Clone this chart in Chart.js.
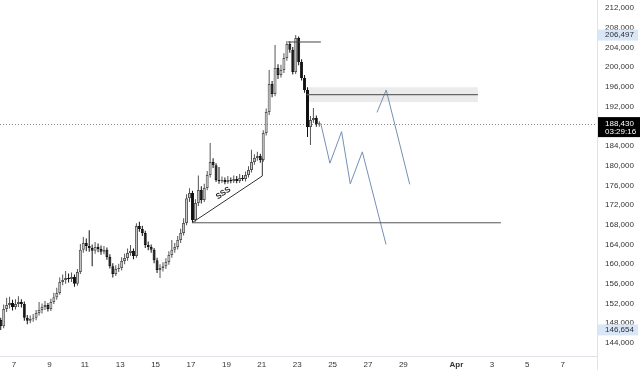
<!DOCTYPE html>
<html>
<head>
<meta charset="utf-8">
<script src="https://cdn.jsdelivr.net/npm/chart.js@4.4.1/dist/chart.umd.min.js"></script>
<style>
  html, body { margin: 0; padding: 0; background: #fff; }
  #c { display: block; }
</style>
</head>
<body>
<canvas id="c" width="640" height="370"></canvas>
<script>
// === 1. DATA (4H candles, days of March) ===
const FIRST_CANDLE_DAY = 6.25;   // Mar 6, 06:00
const CANDLE_STEP = 1 / 6;       // 4 hours

const opens = [
  148660, 147400, 150900, 151700, 152100, 151300, 151900, 152300, 151900, 149100,
  148500, 148900, 149100, 150100, 150700, 151300, 151700, 150900, 152300, 153300,
  154150, 156400, 156800, 157200, 157000, 157400, 156000, 158400, 162900, 164300,
  163700, 163300, 162700, 163500, 163100, 162500, 162900, 161450, 159600, 158000,
  159000, 159200, 160650, 161250, 162250, 162700, 161650, 167750, 167150, 166300,
  163900, 163500, 162900, 160800, 158800, 159200, 159600, 160450, 161850, 162900,
  163500, 164900, 166300, 168350, 173400, 174450, 168950, 172400, 175050, 173000,
  175450, 178100, 180750, 180100, 177100, 176900, 177100, 176700, 177100, 176900,
  177300, 176900, 177500, 177300, 178100, 179100, 180750, 181550, 181950, 181150,
  186600, 190900, 196550, 194550, 199800, 198400, 199400, 201850, 204700, 203500,
  199000, 205900, 201050, 197800, 195350, 187850, 189250, 189650, 188400
];
const closes = [
  147400, 150900, 151700, 152100, 151300, 151900, 152300, 151900, 149100, 148500,
  148900, 149100, 150100, 150700, 151300, 151700, 150900, 152300, 153300, 154150,
  156400, 156800, 157200, 157000, 157400, 156000, 158400, 162900, 164300, 163700,
  163300, 162700, 163500, 163100, 162500, 162900, 161450, 159600, 158000, 159000,
  159200, 160650, 161250, 162250, 162700, 161650, 167750, 167150, 166300, 163900,
  163500, 162900, 160800, 158800, 159200, 159600, 160450, 161850, 162900, 163500,
  164900, 166300, 168350, 173400, 174450, 168950, 172400, 175050, 173000, 175450,
  178100, 180750, 180100, 177100, 176900, 177100, 176700, 177100, 176900, 177300,
  176900, 177500, 177300, 178100, 179100, 180750, 181550, 181950, 181150, 186600,
  190900, 196550, 194550, 199800, 198400, 199400, 201850, 204700, 203500, 199000,
  205900, 201050, 197800, 195350, 187850, 189250, 189650, 188400, 188430
];
const highs = [
  149100, 151800, 153200, 153400, 152800, 152900, 153500, 152900, 152400, 149700,
  149600, 149900, 150700, 152300, 152000, 152500, 152100, 153000, 154200, 155200,
  157300, 157900, 158600, 158100, 158300, 157900, 159000, 164100, 165500, 165200,
  166900, 164000, 164500, 164200, 163800, 163700, 163400, 162000, 160200, 159800,
  160100, 161400, 162100, 163200, 163900, 163200, 168300, 168600, 167800, 166800,
  164600, 164000, 163300, 161300, 160000, 160400, 161200, 162600, 164900, 164300,
  165700, 167200, 169300, 174200, 175400, 174900, 173200, 178000, 175800, 176300,
  178900, 184600, 181500, 180500, 179700, 177800, 177600, 177900, 177600, 178000,
  177900, 178300, 178100, 178800, 179900, 183200, 182300, 182800, 182400, 187200,
  191600, 199400, 197200, 204500, 200600, 200500, 202800, 205300, 205200, 204100,
  206497, 206200, 201600, 198400, 195900, 190100, 191700, 190200, 189000
];
const lows = [
  146654, 147000, 150300, 151000, 150600, 150800, 151300, 151200, 148500, 147800,
  148000, 148300, 148600, 149600, 150000, 150700, 150400, 150500, 151900, 152800,
  153800, 155700, 156000, 156300, 156400, 155400, 155600, 158000, 162300, 162600,
  162500, 159600, 162100, 162400, 161900, 162000, 160900, 159100, 157300, 157600,
  158400, 158700, 160000, 160700, 161700, 161000, 161300, 166600, 165700, 163300,
  162800, 162300, 160200, 158200, 157200, 158500, 159000, 159900, 161300, 162300,
  163000, 164300, 165800, 167900, 172600, 168400, 168600, 171800, 172300, 172600,
  175000, 177600, 179500, 176700, 176300, 176500, 176200, 176300, 176400, 176500,
  176400, 176500, 176900, 176800, 177600, 178600, 180200, 181000, 180600, 180800,
  186100, 190300, 193900, 194100, 197600, 197900, 198800, 201300, 202900, 198500,
  198600, 200400, 197300, 194800, 185800, 184200, 188700, 187900, 187900
];

const CURRENT_PRICE = 188430;
const COUNTDOWN = '03:29:16';
const RANGE_HIGH = 206497;
const RANGE_LOW = 146654;

// axis ticks
const xTickDays   = [7, 9, 11, 13, 15, 17, 19, 21, 23, 25, 27, 29, 32, 34, 36, 38];
const xTickLabels = ['7', '9', '11', '13', '15', '17', '19', '21', '23', '25', '27', '29', 'Apr', '3', '5', '7'];
const yTicks = [144000, 148000, 152000, 156000, 160000, 164000, 168000, 172000, 176000,
                180000, 184000, 188000, 192000, 196000, 200000, 204000, 208000, 212000];
const yTicksShown = yTicks.filter(v => v !== 188000);

// drawings (day, price)
const supportLine = [{ x: 17.06, y: 168400 }, { x: 34.51, y: 168400 }];
const trendLine   = [{ x: 17.06, y: 168400 }, { x: 21.03, y: 177900 }, { x: 21.03, y: 181500 }];
const topLine     = [{ x: 22.48, y: 205100 }, { x: 24.34, y: 205100 }];
const zoneDays    = [23.54, 33.21];
const zonePrices  = [192900, 194400, 195900]; // bottom, middle, top
const zoneMid     = [{ x: 23.54, y: 194400 }, { x: 33.21, y: 194400 }];
const pathDown    = [
  { x: 24.33, y: 188600 }, { x: 24.85, y: 180500 }, { x: 25.51, y: 186900 },
  { x: 26.00, y: 176300 }, { x: 26.68, y: 182800 }, { x: 28.02, y: 164000 }
];
const pathUp      = [{ x: 27.51, y: 190800 }, { x: 28.03, y: 195350 }, { x: 29.36, y: 176200 }];
const sssLabel    = { x: 18.83, y: 174400, text: 'SSS' };

// === 2. CANDLES ===
const times = closes.map((_, i) => FIRST_CANDLE_DAY + i * CANDLE_STEP);
const isUp = i => closes[i] >= opens[i];
const UP_FILL = '#d0d0d0', UP_EDGE = '#555', DOWN = '#111';

const wickData = times.map((t, i) => ({ x: t, y: [lows[i], highs[i]] }));
const bodyData = times.map((t, i) => ({ x: t, y: [opens[i], closes[i]] }));

const fmt = v => v.toLocaleString('en-US');
const FONT = "'Liberation Sans', Arial, sans-serif";

function lineDs(data, color, width) {
  return {
    type: 'line', data, borderColor: color, borderWidth: width,
    pointRadius: 0, fill: false, tension: 0, order: 0
  };
}

// === 3. OVERLAYS ===
const overlay = {
  id: 'overlay',
  beforeDatasetsDraw(chart) {
    const { ctx, chartArea: a, scales: { x, y } } = chart;
    ctx.save();
    // zone box
    const zx0 = x.getPixelForValue(zoneDays[0]), zx1 = x.getPixelForValue(zoneDays[1]);
    const zyT = y.getPixelForValue(zonePrices[2]), zyB = y.getPixelForValue(zonePrices[0]);
    ctx.fillStyle = '#ebebeb';
    ctx.fillRect(zx0, zyT, zx1 - zx0, zyB - zyT);
    // current price dotted line
    const py = Math.round(y.getPixelForValue(CURRENT_PRICE)) + 0.5;
    ctx.strokeStyle = '#8a8a8a';
    ctx.lineWidth = 1;
    ctx.setLineDash([1, 2]);
    ctx.beginPath(); ctx.moveTo(a.left, py); ctx.lineTo(a.right, py); ctx.stroke();
    ctx.restore();
  },
  afterDatasetsDraw(chart) {
    const { ctx, scales: { x, y } } = chart;
    ctx.save();
    ctx.translate(x.getPixelForValue(sssLabel.x), y.getPixelForValue(sssLabel.y));
    ctx.rotate(-33.6 * Math.PI / 180);
    ctx.font = "bold 8px " + FONT;
    ctx.fillStyle = '#222';
    ctx.textAlign = 'center';
    ctx.textBaseline = 'middle';
    ctx.fillText(sssLabel.text, 0, 0);
    ctx.restore();
  },
  afterDraw(chart) {
    const { ctx, chartArea: a, scales: { y } } = chart;
    ctx.save();
    // axis borders
    ctx.strokeStyle = '#e0e3eb';
    ctx.lineWidth = 1;
    ctx.beginPath();
    ctx.moveTo(a.right + 0.5, 0); ctx.lineTo(a.right + 0.5, chart.height);
    ctx.moveTo(0, a.bottom + 0.5); ctx.lineTo(a.right, a.bottom + 0.5);
    ctx.stroke();

    ctx.font = "8px " + FONT;
    ctx.textBaseline = 'middle';
    ctx.textAlign = 'left';
    // high / low labels
    [RANGE_HIGH, RANGE_LOW].forEach(v => {
      const yy = y.getPixelForValue(v);
      ctx.fillStyle = '#d9e6f6';
      ctx.fillRect(a.right + 1, yy - 5.5, 40, 11);
      ctx.fillStyle = '#2a2e39';
      ctx.fillText(fmt(v), a.right + 8, yy);
    });
    // current price label
    const py = y.getPixelForValue(CURRENT_PRICE);
    ctx.fillStyle = '#000';
    ctx.fillRect(a.right + 1, py - 7, chart.width - a.right - 1, 20);
    ctx.fillStyle = '#fff';
    ctx.fillText(fmt(CURRENT_PRICE), a.right + 8, py - 0.5);
    ctx.fillText(COUNTDOWN, a.right + 8, py + 8);
    ctx.restore();
  }
};

// === 4. CHART ===
new Chart(document.getElementById('c'), {
  type: 'bar',
  data: {
    datasets: [
      lineDs(supportLine, '#555', 1),
      lineDs(trendLine, '#333', 1),
      lineDs(topLine, '#444', 1),
      lineDs(zoneMid, '#666', 1.3),
      lineDs(pathDown, '#7590b4', 1),
      lineDs(pathUp, '#7590b4', 1),
      {
        data: bodyData, order: 1, grouped: false, barThickness: 3, minBarLength: 1,
        inflateAmount: 0, borderSkipped: false, borderWidth: 1,
        backgroundColor: c => isUp(c.dataIndex) ? UP_FILL : DOWN,
        borderColor: c => isUp(c.dataIndex) ? UP_EDGE : DOWN
      },
      {
        data: wickData, order: 2, grouped: false, barThickness: 1, inflateAmount: 0,
        borderWidth: 0,
        backgroundColor: c => isUp(c.dataIndex) ? UP_EDGE : DOWN
      }
    ]
  },
  options: {
    responsive: false,
    animation: false,
    layout: { padding: 0 },
    plugins: { legend: { display: false }, tooltip: { enabled: false } },
    scales: {
      x: {
        type: 'linear', min: 6.209, max: 39.94, offset: false,
        grid: { display: false, drawTicks: false }, border: { display: false },
        afterBuildTicks: s => { s.ticks = xTickDays.map(v => ({ value: v })); },
        afterFit: s => { s.height = 14; s.paddingLeft = 0; s.paddingRight = 0; },
        ticks: {
          padding: 4, color: '#333', maxRotation: 0, autoSkip: false,
          font: c => ({ family: FONT, size: 8, weight: c.tick && c.tick.value === 32 ? 'bold' : 'normal' }),
          callback: v => xTickLabels[xTickDays.indexOf(v)]
        }
      },
      y: {
        type: 'linear', position: 'right', min: 141356, max: 213624,
        grid: { display: false, drawTicks: false }, border: { display: false },
        afterBuildTicks: s => { s.ticks = yTicksShown.map(v => ({ value: v })); },
        afterFit: s => { s.width = 43; s.paddingTop = 0; s.paddingBottom = 0; },
        ticks: {
          padding: 8, color: '#333', font: { family: FONT, size: 8 },
          callback: v => fmt(v)
        }
      }
    }
  },
  plugins: [overlay]
});
</script>
</body>
</html>
